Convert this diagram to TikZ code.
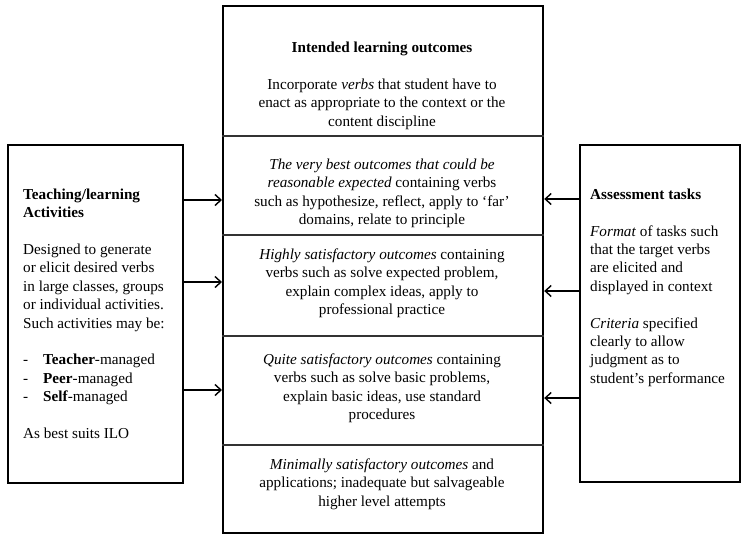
\documentclass[tikz,border=0pt]{standalone}
\usepackage{fontspec}
\setmainfont{Liberation Serif}
\usetikzlibrary{arrows.meta}
\begin{document}
\begin{tikzpicture}[x=1pt,y=-1pt,
  box/.style={draw=black, line width=2.2pt, inner sep=0pt, anchor=north west},
  divider/.style={draw=black!80, line width=1.6pt},
  conn/.style={line width=1.6pt, -{Straight Barb[length=6pt,width=11pt,line width=1.4pt]}},
  txt/.style={font=\fontsize{15.2}{18.4}\selectfont, inner sep=0pt, anchor=north},
  ctxt/.style={txt, align=center},
  ltxt/.style={txt, align=left, anchor=north west}]
\useasboundingbox (0,0) rectangle (741,535);
% boxes
\node[box, minimum width=175pt, minimum height=338pt] (tla) at (7,144) {};
\node[box, minimum width=160pt, minimum height=337pt] (at) at (579,144) {};
\node[box, minimum width=320pt, minimum height=527pt] (ilo) at (222,5) {};
% dividers
\draw[divider] (ilo.west |- 0,136) -- (ilo.east |- 0,136);
\draw[divider] (ilo.west |- 0,235) -- (ilo.east |- 0,235);
\draw[divider] (ilo.west |- 0,336) -- (ilo.east |- 0,336);
\draw[divider] (ilo.west |- 0,445) -- (ilo.east |- 0,445);
% centre texts
\node[ctxt] (t1) at (382,41.5) {\textbf{Intended learning outcomes}};
\node[ctxt] (p1) at (382,78.5) {Incorporate \textit{verbs} that student have to\\ enact as appropriate to the context or the\\ content discipline};
\node[ctxt] (p2) at (382,158.5) {\textit{The very best outcomes that could be}\\ \textit{reasonable expected} containing verbs\\ such as hypothesize, reflect, apply to ‘far’\\ domains, relate to principle};
\node[ctxt] (p3) at (382,248.5) {\textit{Highly satisfactory outcomes} containing\\ verbs such as solve expected problem,\\ explain complex ideas, apply to\\ professional practice};
\node[ctxt] (p4) at (382,353.5) {\textit{Quite satisfactory outcomes} containing\\ verbs such as solve basic problems,\\ explain basic ideas, use standard\\ procedures};
\node[ctxt] (p5) at (382,458.5) {\textit{Minimally satisfactory outcomes} and\\ applications; inadequate but salvageable\\ higher level attempts};
% left text
\node[ltxt] (lt) at (23,188.5) {\textbf{Teaching/learning}\\ \textbf{Activities}\\[18.4pt]
Designed to generate\\ or elicit desired verbs\\ in large classes, groups\\ or individual activities.\\ Such activities may be:\\[18.4pt]
\makebox[20pt][l]{-}\textbf{Teacher}-managed\\
\makebox[20pt][l]{-}\textbf{Peer}-managed\\
\makebox[20pt][l]{-}\textbf{Self}-managed\\[18.4pt]
As best suits ILO};
% right text
\node[ltxt] (rt) at (590,188.5) {\textbf{Assessment tasks}\\[18.4pt]
\textit{Format} of tasks such\\ that the target verbs\\ are elicited and\\ displayed in context\\[18.4pt]
\textit{Criteria} specified\\ clearly to allow\\ judgment as to\\ student’s performance};
% connectors
\draw[conn] (tla.east |- 0,200) -- (ilo.west |- 0,200);
\draw[conn] (tla.east |- 0,282) -- (ilo.west |- 0,282);
\draw[conn] (tla.east |- 0,390) -- (ilo.west |- 0,390);
\draw[conn] (at.west |- 0,199) -- (ilo.east |- 0,199);
\draw[conn] (at.west |- 0,291) -- (ilo.east |- 0,291);
\draw[conn] (at.west |- 0,398) -- (ilo.east |- 0,398);
\end{tikzpicture}
\end{document}
